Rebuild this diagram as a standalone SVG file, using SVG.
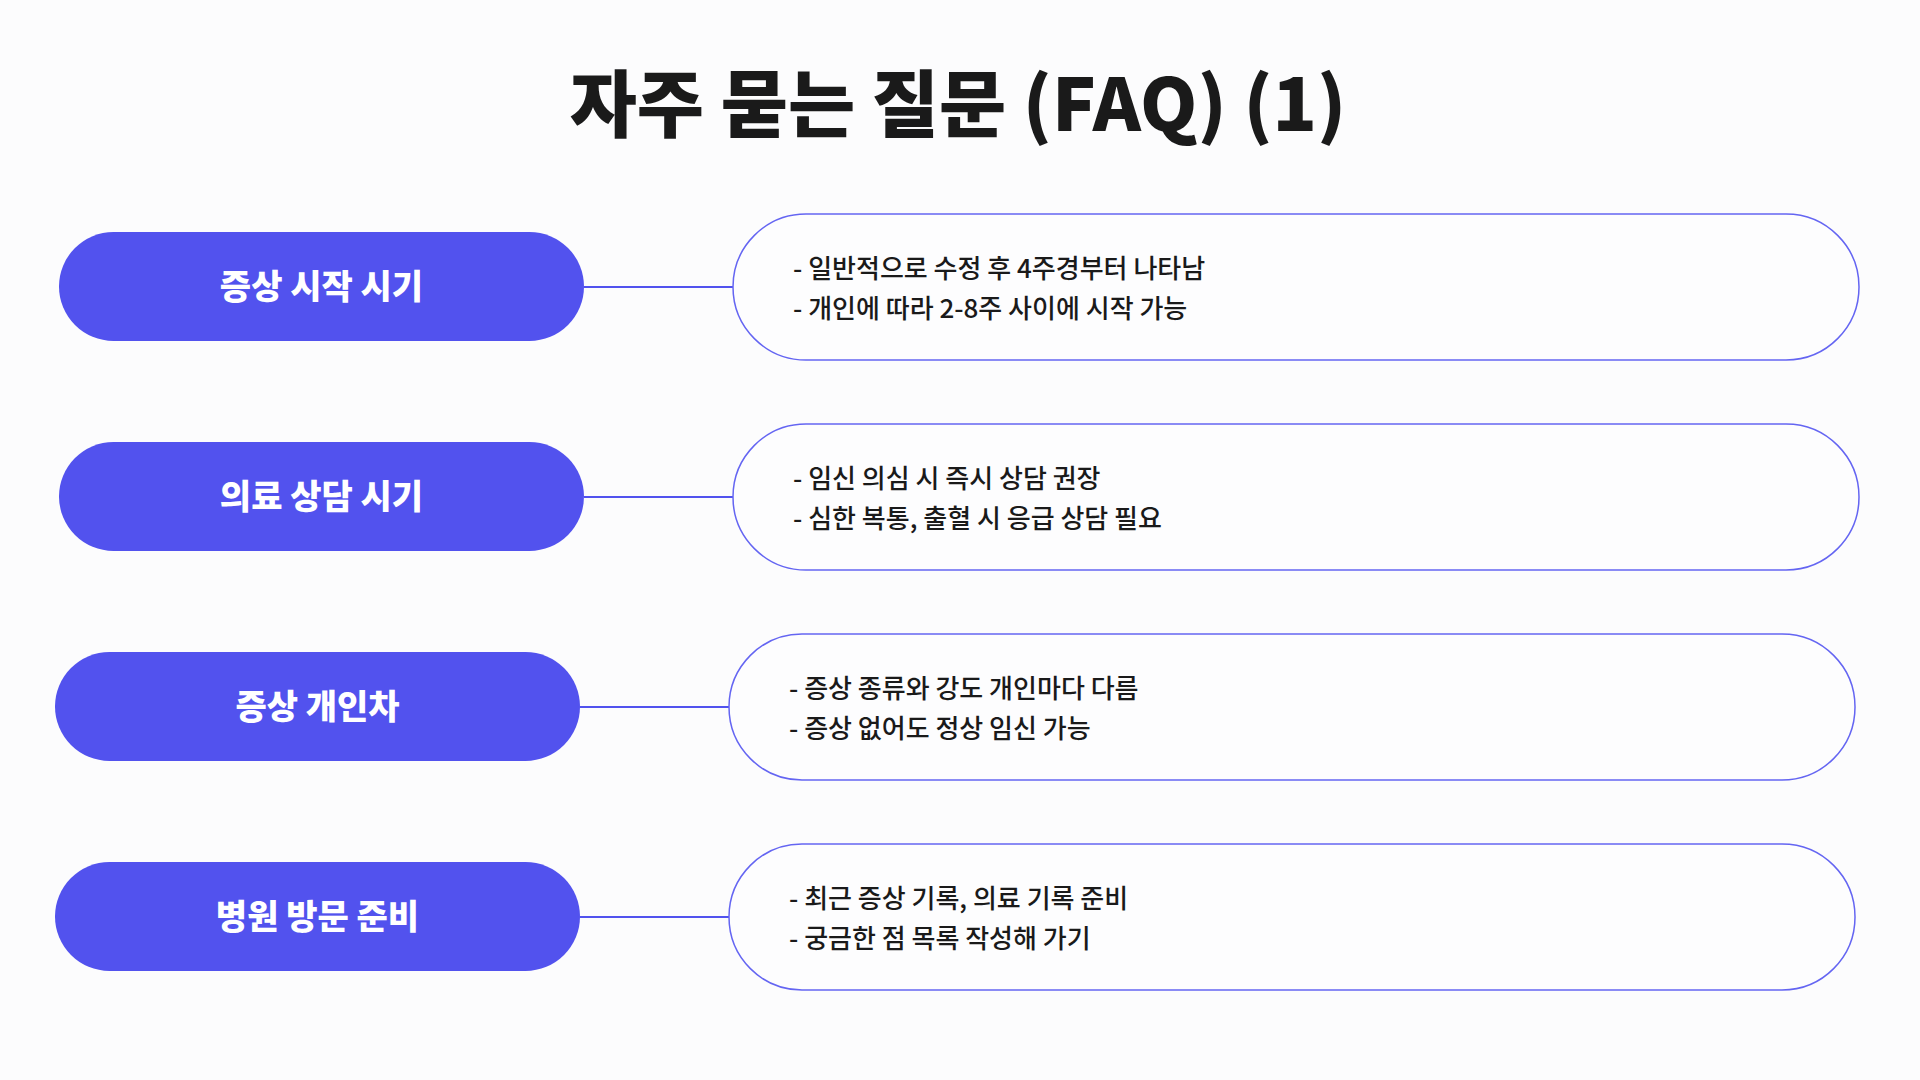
<svg xmlns="http://www.w3.org/2000/svg" width="1920" height="1080" viewBox="0 0 1920 1080">
<style>
.bg{fill:#fcfcfd}
.title{font-family:"Noto Sans CJK KR","Noto Sans",sans-serif;font-weight:900;font-size:73px;fill:#1a1a1a;text-anchor:middle}
.lbl{fill:#5252ee}
.lt{font-family:"Noto Sans CJK KR","Noto Sans",sans-serif;font-weight:800;font-size:34px;fill:#ffffff;text-anchor:middle}
.box{fill:#fdfdfe;stroke:#6465f2;stroke-width:1.5}
.bt{font-family:"Noto Sans CJK KR","Noto Sans",sans-serif;font-weight:500;font-size:26px;fill:#1a1a1a}
.conn{stroke:#5152ee;stroke-width:2;fill:none}
</style>
<rect class="bg" x="0" y="0" width="1920" height="1080"/>
<text class="title" x="958" y="131">자주 묻는 질문 (FAQ) (1)</text>
<g id="connectors">
<line class="conn" x1="584" y1="287" x2="733" y2="287"/>
<line class="conn" x1="584" y1="497" x2="733" y2="497"/>
<line class="conn" x1="580" y1="707" x2="729" y2="707"/>
<line class="conn" x1="580" y1="917" x2="729" y2="917"/>
</g>
<g id="q1">
<rect class="lbl" x="59" y="232" width="525" height="109" rx="54.5"/>
<text class="lt" x="321.5" y="299">증상 시작 시기</text>
</g>
<g id="a1">
<rect class="box" x="733" y="214" width="1126" height="146" rx="73"/>
<text class="bt" x="793" y="278">- 일반적으로 수정 후 4주경부터 나타남</text>
<text class="bt" x="793" y="318">- 개인에 따라 2-8주 사이에 시작 가능</text>
</g>
<g id="q2">
<rect class="lbl" x="59" y="442" width="525" height="109" rx="54.5"/>
<text class="lt" x="321.5" y="509">의료 상담 시기</text>
</g>
<g id="a2">
<rect class="box" x="733" y="424" width="1126" height="146" rx="73"/>
<text class="bt" x="793" y="488">- 임신 의심 시 즉시 상담 권장</text>
<text class="bt" x="793" y="528">- 심한 복통, 출혈 시 응급 상담 필요</text>
</g>
<g id="q3">
<rect class="lbl" x="55" y="652" width="525" height="109" rx="54.5"/>
<text class="lt" x="317.5" y="719">증상 개인차</text>
</g>
<g id="a3">
<rect class="box" x="729" y="634" width="1126" height="146" rx="73"/>
<text class="bt" x="789" y="698">- 증상 종류와 강도 개인마다 다름</text>
<text class="bt" x="789" y="738">- 증상 없어도 정상 임신 가능</text>
</g>
<g id="q4">
<rect class="lbl" x="55" y="862" width="525" height="109" rx="54.5"/>
<text class="lt" x="317.5" y="929">병원 방문 준비</text>
</g>
<g id="a4">
<rect class="box" x="729" y="844" width="1126" height="146" rx="73"/>
<text class="bt" x="789" y="908">- 최근 증상 기록, 의료 기록 준비</text>
<text class="bt" x="789" y="948">- 궁금한 점 목록 작성해 가기</text>
</g>
</svg>
